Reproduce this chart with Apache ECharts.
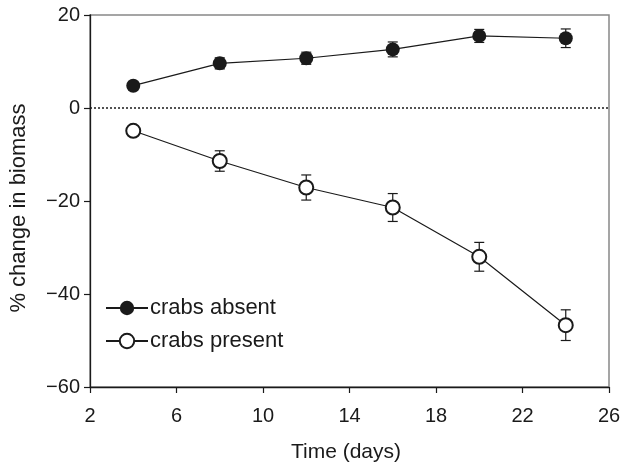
<!DOCTYPE html>
<html>
<head>
<meta charset="utf-8">
<script src="https://cdn.jsdelivr.net/npm/echarts@6/dist/echarts.min.js"></script>
<style>html,body{margin:0;padding:0;background:#fff;}#c{width:625px;height:468px;}</style>
</head>
<body>
<div id="c"></div>
<script>
const days = [4, 8, 12, 16, 20, 24];
const absentMean = [4.8, 9.6, 10.7, 12.6, 15.5, 15.0];
const absentErr = [0.8, 1.2, 1.3, 1.6, 1.4, 2.0];
const presentMean = [-4.9, -11.4, -17.1, -21.4, -32.0, -46.7];
const presentErr = [0.8, 2.2, 2.7, 3.0, 3.1, 3.3];
const xTicks = [2, 6, 10, 14, 18, 22, 26];
const yTicks = [-60, -40, -20, 0, 20];

const FONT = 'Liberation Sans';
const INK = '#1a1a1a';

function errData(means, errs) {
  return days.map((d, i) => [d, means[i] - errs[i], means[i] + errs[i]]);
}
function renderErr(params, api) {
  const x = api.value(0);
  const lo = api.coord([x, api.value(1)]);
  const hi = api.coord([x, api.value(2)]);
  const cap = 5;
  const style = { stroke: INK, lineWidth: 1.2 };
  return {
    type: 'group',
    children: [
      { type: 'line', shape: { x1: lo[0], y1: lo[1], x2: hi[0], y2: hi[1] }, style },
      { type: 'line', shape: { x1: lo[0] - cap, y1: lo[1], x2: lo[0] + cap, y2: lo[1] }, style },
      { type: 'line', shape: { x1: hi[0] - cap, y1: hi[1], x2: hi[0] + cap, y2: hi[1] }, style }
    ]
  };
}

const chart = echarts.init(document.getElementById('c'), null, { renderer: 'canvas' });
chart.setOption({
  animation: false,
  backgroundColor: '#fff',
  textStyle: { fontFamily: FONT },
  grid: { left: 87, right: 16, top: 15, bottom: 81, show: true, borderColor: '#888', borderWidth: 1.5, backgroundColor: 'transparent' },
  xAxis: {
    type: 'value', min: xTicks[0], max: xTicks[xTicks.length - 1], interval: 4,
    name: 'Time (days)', nameLocation: 'middle', nameGap: 55,
    nameTextStyle: { fontFamily: FONT, fontSize: 21, color: INK, padding: [0, 7, 0, 0] },
    axisLine: { show: true, onZero: false, lineStyle: { color: INK, width: 1.3 } },
    axisTick: { show: true, inside: false, length: 6, lineStyle: { color: INK, width: 1.2 } },
    axisLabel: { margin: 19, fontFamily: FONT, fontSize: 20, color: INK },
    splitLine: { show: false }
  },
  yAxis: {
    type: 'value', min: yTicks[0], max: yTicks[yTicks.length - 1], interval: 20,
    name: '% change in biomass', nameLocation: 'middle', nameGap: 60,
    nameTextStyle: { fontFamily: FONT, fontSize: 22, color: INK, padding: [0, 14, 0, 0] },
    axisLine: { show: true, onZero: false, lineStyle: { color: INK, width: 1.3 } },
    axisTick: { show: true, inside: false, length: 6, lineStyle: { color: INK, width: 1.2 } },
    axisLabel: { margin: 10, fontFamily: FONT, fontSize: 20, color: INK,
      formatter: v => (v < 0 ? '\u2212' + Math.abs(v) : String(v)) },
    splitLine: { show: false }
  },
  legend: {
    orient: 'vertical', left: 100, top: 292, itemWidth: 42, itemHeight: 18, itemGap: 11,
    textStyle: { fontFamily: FONT, fontSize: 22, color: INK, padding: [0, 0, 0, -3] },
    data: ['crabs absent', 'crabs present']
  },
  series: [
    { type: 'custom', name: 'errA', renderItem: renderErr, data: errData(absentMean, absentErr), z: 2, silent: true },
    { type: 'custom', name: 'errP', renderItem: renderErr, data: errData(presentMean, presentErr), z: 2, silent: true },
    {
      type: 'line', name: 'crabs absent', data: days.map((d, i) => [d, absentMean[i]]),
      symbol: 'circle', symbolSize: 14, z: 5,
      lineStyle: { color: INK, width: 1.2 },
      itemStyle: { color: INK, borderColor: INK, borderWidth: 0 },
      markLine: {
        silent: true, symbol: 'none', label: { show: false },
        lineStyle: { color: INK, type: [2, 2], width: 1.5 },
        data: [{ yAxis: 0 }]
      }
    },
    {
      type: 'line', name: 'crabs present', data: days.map((d, i) => [d, presentMean[i]]),
      symbol: 'circle', symbolSize: 14, z: 5,
      lineStyle: { color: INK, width: 1.2 },
      itemStyle: { color: '#fff', borderColor: INK, borderWidth: 2 }
    }
  ]
});
</script>
</body>
</html>
